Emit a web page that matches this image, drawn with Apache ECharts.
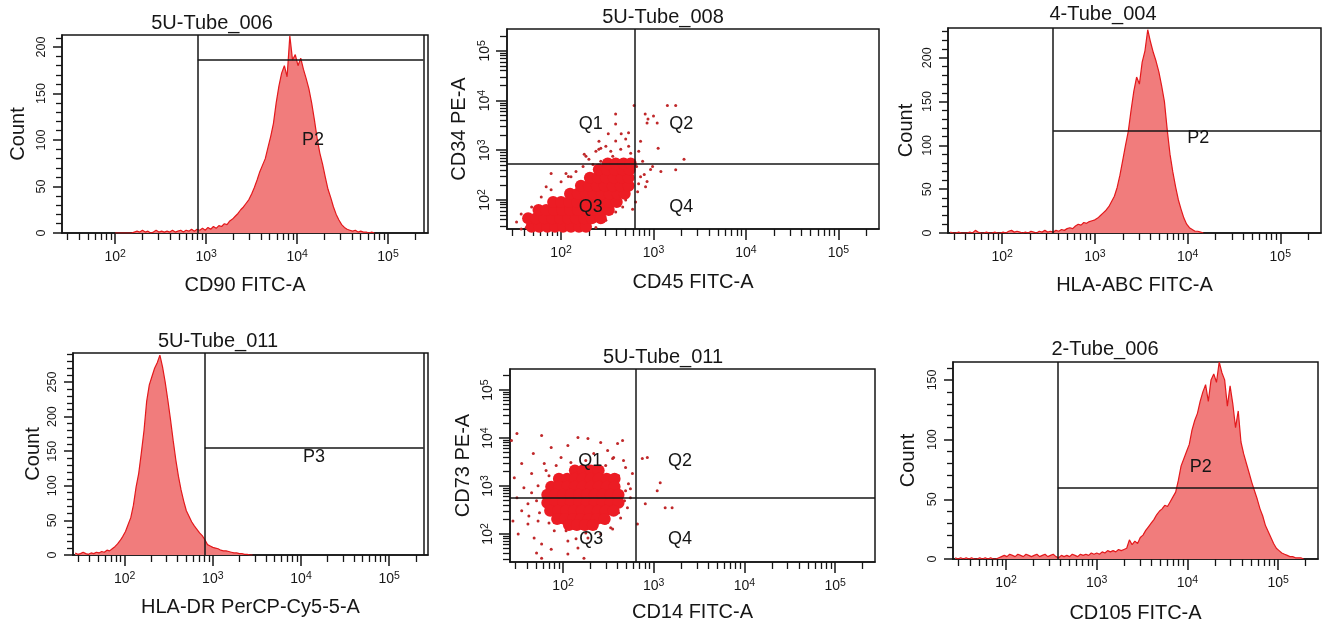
<!DOCTYPE html>
<html><head><meta charset="utf-8">
<script src="https://cdn.jsdelivr.net/npm/echarts@6/dist/echarts.min.js"></script>
<style>html,body{margin:0;padding:0;background:#fff}#c{width:1325px;height:625px}</style>
</head><body><div id="c"></div>
<script>
// ---------------- DATA ----------------
// Histogram bins: counts per log10 bin, first bin exponent and bin width (log10 units)
const BIN_STEP = 0.03;
const cd90Start = 2.00;
const cd90Counts = [0,0,0,0,0,0,0,1,2,1,3,1,2,0,1,3,1,2,1,2,1,3,1,2,3,1,3,2,4,2,4,3,5,3,6,4,7,5,8,7,10,9,13,15,18,21,25,28,32,36,42,49,57,66,73,80,92,104,118,140,158,172,180,168,212,186,192,180,188,176,166,155,140,122,102,86,74,60,47,38,28,20,14,9,6,4,3,2,3,1,2,1,1,0,1,0];
const hlaAbcStart = 1.44;
const hlaAbcCounts = [1,0,0,1,0,0,0,1,0,3,1,0,0,1,0,0,1,0,0,1,0,2,3,1,2,1,0,1,0,2,1,0,2,1,3,1,2,1,3,2,4,3,5,6,5,8,10,9,12,11,13,14,15,17,20,23,26,30,36,42,52,66,83,100,116,140,162,178,170,195,208,232,218,206,196,184,168,150,118,90,70,53,38,27,17,10,6,4,2,2,1,0];
const hlaDrStart = 1.44;
const hlaDrCounts = [3,1,2,4,2,1,3,2,4,3,5,4,7,6,9,12,16,21,27,34,44,54,72,98,118,148,180,222,246,258,270,278,289,272,250,224,196,166,138,114,94,78,64,56,48,42,37,32,28,22,15,13,11,10,9,7,6,6,5,4,3,3,2,2,1,1,0,0];
const cd105Start = 1.44;
const cd105Counts = [1,0,1,0,1,0,1,0,0,1,0,1,0,1,0,0,1,2,3,2,4,3,2,4,3,2,4,3,2,3,4,2,3,4,2,3,4,2,1,3,2,3,2,4,3,2,4,3,4,3,5,4,5,4,6,5,7,6,7,6,8,7,8,9,16,12,15,13,18,20,24,27,30,33,37,40,42,45,44,48,52,56,66,78,84,90,96,108,116,122,132,140,146,132,150,155,148,165,156,150,128,145,130,110,124,98,88,80,72,64,57,50,42,36,28,23,18,13,9,7,5,4,3,2,2,1,1,1,0];

// Dot plots: [x intensity, y intensity]
const cd45cd34Core = [
 [48,29],[58,29],[71,29],[86,29],[105,29],[128,29],[156,29],[186,29],
 [44,43],[54,43],[66,43],[80,43],[98,43],[119,43],[145,43],[177,43],[215,43],[269,43],
 [57,63],[69,63],[84,63],[103,63],[125,63],[152,63],[186,63],[226,63],[276,63],[328,63],
 [82,91],[100,91],[122,91],[149,91],[181,91],[221,91],[269,91],[328,91],[400,91],
 [125,133],[152,133],[186,133],[226,133],[276,133],[336,133],[410,133],[488,133],
 [164,193],[200,193],[244,193],[297,193],[362,193],[442,193],[538,193],
 [205,281],[250,281],[305,281],[372,281],[453,281],[538,281],
 [256,409],[312,409],[381,409],[464,409],[552,409],
 [320,543],[390,543],[475,543],[566,543]
];
const cd45cd34Sparse = [
 [389,5370],[389,3390],[617,7940],[813,5370],[851,3550],[1096,3550],[1413,7940],[1738,7940],[2138,661],[1738,407],
 [1202,372],[977,468],[794,324],[851,234],[724,1514],[692,955],[78,339],[45,39],[37,26],[178,832],
 [257,1514],[324,2138],[447,2138],[537,2239],[269,1096],[120,295],[1000,4900],[1122,1096],[871,4266],
 [145,373],[173,471],[200,655],[238,955],[269,597],[305,1208],[345,955],[390,1528],[442,1047],[500,1675],
 [538,1208],[566,869],[362,755],[221,518],[128,294],[100,233],[78,160],[61,115],[48,72],[37,52],[33,36],
 [42,28],[69,184],[113,340],[186,755],[256,1047],
 [656,471],[724,294],[820,184],[673,146],[762,597],[929,409],[640,91],[690,212],[594,65],
 [390,57],[305,39],[238,28],[500,100],[464,72]
];
const cd14cd73Core = [
 [135,2094],[165,2094],[202,2094],[247,2094],
 [90,1422],[111,1422],[135,1422],[165,1422],[202,1422],[247,1422],[303,1422],[370,1422],
 [74,967],[90,967],[111,967],[135,967],[165,967],[202,967],[247,967],[303,967],[370,967],
 [67,657],[82,657],[100,657],[122,657],[150,657],[183,657],[224,657],[274,657],[335,657],[409,657],
 [67,447],[82,447],[100,447],[122,447],[150,447],[183,447],[224,447],[274,447],[335,447],[409,447],
 [72,303],[88,303],[108,303],[132,303],[161,303],[197,303],[241,303],[295,303],[361,303],
 [86,206],[105,206],[129,206],[157,206],[192,206],[235,206],[288,206],
 [116,154],[142,154],[174,154],[213,154]
];
const cd14cd73Sparse = [
 [58,11300],[146,10300],[188,9800],[260,8090],[399,7710],[113,7000],[74,6360],[47,4750],[310,5500],[464,3390],
 [35,2940],[29,1490],[37,920],[31,569],[35,303],[28,187],[41,162],[32,100],[48,82],[58,62],
 [74,48],[113,71],[146,51],[188,82],[260,100],[335,134],[431,216],[513,351],[553,569],[526,1117],
 [582,1811],[489,2420],[361,3920],[218,4750],[95,3920],[62,2940],[45,1811],[41,426],[53,187],[80,116],
 [218,134],[58,31],[51,40],[849,3920],[748,3730],[1178,1172],[807,426],[1336,351],[1593,351],[661,162],
 [1091,796],[27,8900],[170,31],[113,38],[31,12470],[453,8900],
 [65,2094],[84,2667],[178,3390],[295,2667],[409,1644],[489,796],[476,492],[409,275],[295,170],[178,105],
 [108,116],[70,170],[55,275],[51,492],[53,1014],[70,1644],[122,3076],[230,2307],[45,724],[42,238],
 [139,79],[352,127],[553,877],[352,3730]
];

// Tick labels
const decadeExponents = [2, 3, 4, 5];
const countTicks200 = [0, 50, 100, 150, 200];
const countTicks250 = [0, 50, 100, 150, 200, 250];
const countTicks150 = [0, 50, 100, 150];

// Gates and region names (data coordinates)
const cd90Gate = { x: 810, y: 186, xEnd: 245000, endLine: true };
const hlaAbcGate = { x: 355, y: 117, xEnd: 275000, endLine: false };
const hlaDrGate = { x: 813, y: 155, xEnd: 245000, endLine: true };
const cd105Gate = { x: 372, y: 60, xEnd: 275000, endLine: false };
const cd45cd34Gate = { x: 631, y: 537 };
const cd14cd73Gate = { x: 631, y: 562 };
const cd90Names = [['P2', 15000, 100]];
const hlaAbcNames = [['P2', 13000, 108]];
const hlaDrNames = [['P3', 14000, 142]];
const cd105Names = [['P2', 14000, 77]];
const cd45cd34Names = [['Q1', 210, 3400], ['Q2', 2000, 3400], ['Q3', 210, 72], ['Q4', 2000, 72]];
const cd14cd73Names = [['Q1', 200, 3300], ['Q2', 1950, 3300], ['Q3', 205, 79], ['Q4', 1950, 79]];

// ---------------- LAYOUT / STYLE ----------------
const FONT = '"Liberation Sans", Arial, Helvetica, sans-serif';
const INK = '#161616';
const LOG_MIN = 26, LOG_MAX = 275000;

const panels = [
 { kind:'hist', title:'5U-Tube_006', tx:212, ty:13, grid:{left:62, top:35, width:366, height:198},
   xName:'CD90 FITC-A', xGap:42, yName:'Count', yGap:34, yMax:213, ticks:countTicks200,
   counts:cd90Counts, start:cd90Start, gate:cd90Gate, names:cd90Names },
 { kind:'dot', title:'5U-Tube_008', tx:663, ty:7, grid:{left:507, top:29, width:372, height:200},
   xName:'CD45 FITC-A', xGap:43, yName:'CD34 PE-A', yGap:38,
   core:cd45cd34Core, sparse:cd45cd34Sparse, gate:cd45cd34Gate, names:cd45cd34Names },
 { kind:'hist', title:'4-Tube_004', tx:1103, ty:4, grid:{left:948, top:28, width:373, height:205},
   xName:'HLA-ABC FITC-A', xGap:42, yName:'Count', yGap:32, yMax:234, ticks:countTicks200,
   counts:hlaAbcCounts, start:hlaAbcStart, gate:hlaAbcGate, names:hlaAbcNames },
 { kind:'hist', title:'5U-Tube_011', tx:218, ty:331, grid:{left:73, top:353, width:355, height:202},
   xName:'HLA-DR PerCP-Cy5-5-A', xGap:42, yName:'Count', yGap:30, yMax:292, ticks:countTicks250,
   counts:hlaDrCounts, start:hlaDrStart, gate:hlaDrGate, names:hlaDrNames },
 { kind:'dot', title:'5U-Tube_011', tx:663, ty:347, grid:{left:510, top:369, width:365, height:193},
   xName:'CD14 FITC-A', xGap:40, yName:'CD73 PE-A', yGap:37,
   core:cd14cd73Core, sparse:cd14cd73Sparse, gate:cd14cd73Gate, names:cd14cd73Names },
 { kind:'hist', title:'2-Tube_006', tx:1105, ty:339, grid:{left:953, top:362, width:365, height:197},
   xName:'CD105 FITC-A', xGap:44, yName:'Count', yGap:35, yMax:165, ticks:countTicks150,
   counts:cd105Counts, start:cd105Start, gate:cd105Gate, names:cd105Names }
];

const lo = Math.log10(LOG_MIN), hi = Math.log10(LOG_MAX);
const minorLogTicks = [];
for (let e = 1; e <= 5; e++) for (let m = 2; m <= 9; m++) {
  const v = Math.log10(m * Math.pow(10, e));
  if (v > lo && v < hi) minorLogTicks.push(v);
}
const SUP_RICH = {
  b: { fontSize: 14, lineHeight: 15, verticalAlign: 'bottom', color: INK, fontFamily: FONT },
  s: { fontSize: 10.5, lineHeight: 11, verticalAlign: 'top', padding: [0, 0, 8, 0], color: INK, fontFamily: FONT }
};
const supFormatter = v => '{b|10}{s|' + Math.round(v) + '}';
const nameStyle = { fontSize: 20, color: INK, fontFamily: FONT };
const lineCol = { color: INK, width: 1.5 };

const grids = [], xAxes = [], yAxes = [], series = [], titles = [];

function logAxes(g, pos, name, gap, rotate) {
  const base = { gridIndex: g, splitLine: { show: false } };
  const idx = (pos === 'bottom' ? xAxes : yAxes).length;
  const list = [
    Object.assign({}, base, { type: 'log', logBase: 10, min: LOG_MIN, max: LOG_MAX, show: false, position: pos }),
    Object.assign({}, base, { type: 'value', min: lo, max: hi, position: pos,
      name: name, nameLocation: 'middle', nameGap: gap, nameTextStyle: nameStyle,
      axisLine: { show: true, onZero: false, lineStyle: lineCol },
      axisTick: { show: true, customValues: decadeExponents, length: 11, lineStyle: lineCol },
      axisLabel: { show: true, customValues: decadeExponents, formatter: supFormatter, rich: SUP_RICH, margin: pos === 'bottom' ? 16 : 15, rotate: rotate } }),
    Object.assign({}, base, { type: 'value', min: lo, max: hi, position: pos,
      axisLine: { show: false, onZero: false },
      axisTick: { show: true, customValues: minorLogTicks, length: 7, lineStyle: { color: INK, width: 1.3 } },
      axisLabel: { show: false } })
  ];
  (pos === 'bottom' ? xAxes : yAxes).push(...list);
  return idx;
}

function countAxes(g, p) {
  const idx = yAxes.length;
  const minors = [];
  for (let v = 10; v <= p.yMax; v += 10) if (v % 50 !== 0) minors.push(v);
  yAxes.push(
    { type: 'value', gridIndex: g, min: 0, max: p.yMax, position: 'left',
      name: p.yName, nameLocation: 'middle', nameGap: p.yGap, nameTextStyle: nameStyle,
      axisLine: { show: true, onZero: false, lineStyle: lineCol },
      axisTick: { show: true, customValues: p.ticks, length: 9, lineStyle: lineCol },
      axisLabel: { show: true, customValues: p.ticks, rotate: 90, fontSize: 12.5, color: INK, fontFamily: FONT, margin: 14 },
      splitLine: { show: false } },
    { type: 'value', gridIndex: g, min: 0, max: p.yMax, position: 'left',
      axisLine: { show: false, onZero: false },
      axisTick: { show: true, customValues: minors, length: 6, lineStyle: { color: INK, width: 1.3 } },
      axisLabel: { show: false }, splitLine: { show: false } }
  );
  return idx;
}

const markBase = { silent: true, symbol: ['none', 'none'], label: { show: false },
  lineStyle: { color: INK, width: 1.5, type: 'solid', opacity: 1 }, emphasis: { disabled: true }, animation: false };

panels.forEach((p, g) => {
  grids.push(Object.assign({ show: true, borderColor: INK, borderWidth: 1.5, backgroundColor: '#fff' }, p.grid));
  titles.push({ text: p.title, left: p.tx, top: p.ty, textAlign: 'center', padding: 0,
    textStyle: { fontSize: 20, fontWeight: 'normal', color: INK, fontFamily: FONT } });
  const xi = logAxes(g, 'bottom', p.xName, p.xGap, 0);
  let yi;
  if (p.kind === 'hist') {
    yi = countAxes(g, p);
    const gd = p.gate;
    const md = [{ xAxis: gd.x }, [{ coord: [gd.x, gd.y] }, { coord: [gd.xEnd, gd.y] }]];
    if (gd.endLine) md.push({ xAxis: gd.xEnd });
    series.push({ type: 'line', xAxisIndex: xi, yAxisIndex: yi, silent: true, animation: false,
      symbol: 'none', showSymbol: false,
      data: p.counts.map((c, i) => [Math.pow(10, p.start + i * BIN_STEP), c]),
      lineStyle: { color: '#e3191c', width: 1.2 },
      areaStyle: { color: '#f17c7c', opacity: 1 },
      markLine: Object.assign({}, markBase, { data: md }) });
  } else {
    yi = logAxes(g, 'left', p.yName, p.yGap, 90);
    series.push({ type: 'scatter', xAxisIndex: xi, yAxisIndex: yi, silent: true, animation: false,
      data: p.sparse, symbolSize: 3, itemStyle: { color: '#c0282a', opacity: 1 } });
    series.push({ type: 'scatter', xAxisIndex: xi, yAxisIndex: yi, silent: true, animation: false,
      data: p.core, symbolSize: 12, itemStyle: { color: '#ec1c24', opacity: 1 },
      markLine: Object.assign({}, markBase, { data: [{ xAxis: p.gate.x }, { yAxis: p.gate.y }] }) });
  }
  series.push({ type: 'scatter', xAxisIndex: xi, yAxisIndex: yi, silent: true, animation: false, z: 10,
    symbolSize: 1, itemStyle: { color: 'rgba(0,0,0,0)', opacity: 1 },
    data: p.names.map(n => ({ name: n[0], value: [n[1], n[2]] })),
    label: { show: true, position: 'inside', formatter: '{b}', fontSize: 18, color: INK, opacity: 1, fontFamily: FONT } });
});

const chart = echarts.init(document.getElementById('c'), null, { renderer: 'canvas' });
chart.setOption({
  animation: false,
  backgroundColor: '#fff',
  title: titles,
  grid: grids,
  xAxis: xAxes,
  yAxis: yAxes,
  series: series
});
</script></body></html>
